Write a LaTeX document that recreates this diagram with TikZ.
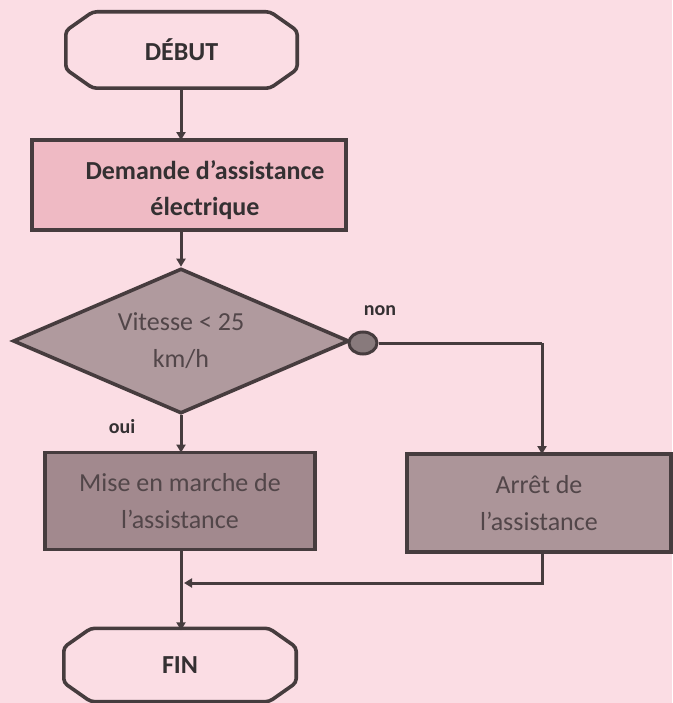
\documentclass[tikz,border=0pt]{standalone}
\usepackage{fontspec}
\setmainfont{Carlito}
\usetikzlibrary{shapes.geometric,arrows.meta}
\definecolor{bgpink}{RGB}{251,221,228}
\definecolor{boxpink}{RGB}{239,186,196}
\definecolor{diafill}{RGB}{176,154,158}
\definecolor{misefill}{RGB}{162,137,142}
\definecolor{arretfill}{RGB}{172,149,153}
\definecolor{edge}{RGB}{70,60,62}
\definecolor{darktext}{RGB}{52,48,50}
\definecolor{greytext}{RGB}{82,70,73}
\definecolor{dotfill}{RGB}{136,122,124}
\tikzset{
  termbox/.style={rectangle, inner sep=0pt,
    font=\fontsize{26}{31}\selectfont\bfseries, text=darktext},
  termline/.style={draw=edge, line width=3.6pt, rounded corners=4pt, line join=round},
  procbox/.style={rectangle, draw=edge, line width=3.8pt, inner sep=0pt, align=center},
  decision/.style={diamond, draw=edge, line width=3.6pt, fill=diafill, inner sep=0pt, aspect=2.3,
    minimum width=336pt, minimum height=145pt, align=center,
    font=\fontsize{26}{37}\selectfont, text=greytext},
  conn/.style={draw=edge, line width=3pt},
  arr/.style={conn, -{Triangle[length=8pt,width=9pt]}},
  lab/.style={font=\fontsize{20}{24}\selectfont\bfseries, text=darktext}
}
\begin{document}
\begin{tikzpicture}[x=1pt,y=-1pt]
\fill[bgpink] (0,0) rectangle (672,703);
\useasboundingbox (0,0) rectangle (672,703);

\node[termbox, minimum width=231pt, minimum height=76pt] (debut) at (181.5,50) {DÉBUT};
\draw[termline] ([xshift=27pt]debut.north west) -- ([xshift=-27pt]debut.north east)
  -- ([yshift=-19pt]debut.north east) -- ([yshift=19pt]debut.south east)
  -- ([xshift=-27pt]debut.south east) -- ([xshift=27pt]debut.south west)
  -- ([yshift=19pt]debut.south west) -- ([yshift=-19pt]debut.north west) -- cycle;

\node[procbox, fill=boxpink, minimum width=314pt, minimum height=90pt,
  label={[xshift=16pt, yshift=-5pt, align=center, font=\fontsize{26}{36}\selectfont\bfseries, text=darktext]center:{Demande d’assistance\\électrique}}] (demande) at (189,185) {};
\node[decision] (test) at (181,341) {Vitesse < 25\\km/h};
\node[ellipse, draw=edge, line width=3pt, fill=dotfill, minimum width=28pt, minimum height=22pt, inner sep=0pt] (dot) at (363,343) {};
\node[procbox, fill=misefill, minimum width=270pt, minimum height=97pt,
  font=\fontsize{26}{37}\selectfont, text=greytext] (mise) at (180,501) {Mise en marche de\\l’assistance};
\node[procbox, fill=arretfill, minimum width=264pt, minimum height=98pt,
  font=\fontsize{26}{37}\selectfont, text=greytext] (arret) at (539,503) {Arrêt de\\l’assistance};

\node[termbox, minimum width=232pt, minimum height=73pt] (fin) at (180,665) {FIN};
\draw[termline] ([xshift=27pt]fin.north west) -- ([xshift=-27pt]fin.north east)
  -- ([yshift=-19pt]fin.north east) -- ([yshift=19pt]fin.south east)
  -- ([xshift=-27pt]fin.south east) -- ([xshift=27pt]fin.south west)
  -- ([yshift=19pt]fin.south west) -- ([yshift=-19pt]fin.north west) -- cycle;

\node[lab] (non) at (380,311) {non};
\node[lab] (oui) at (122,427) {oui};

\coordinate (merge) at (181,583);
\coordinate (turn) at (542,343);

\draw[arr] ([yshift=-2pt]debut.south -| 181,0) -- ([yshift=-2pt]181,0 |- demande.north);
\draw[arr] (181,0 |- demande.south) -- (test.north);
\draw[arr] (test.south) -- ([yshift=-2pt]test.south |- mise.north);
\draw[conn] (dot.east) -- (turn);
\draw[arr] (turn) -- ([yshift=-2pt]turn |- arret.north);
\draw[conn] (mise.south -| merge) -- (merge);
\draw[arr] (merge) -- ([yshift=-2pt]merge |- fin.north);
\draw[arr] (arret.south -| turn) |- ([xshift=3pt]merge);
\end{tikzpicture}
\end{document}
